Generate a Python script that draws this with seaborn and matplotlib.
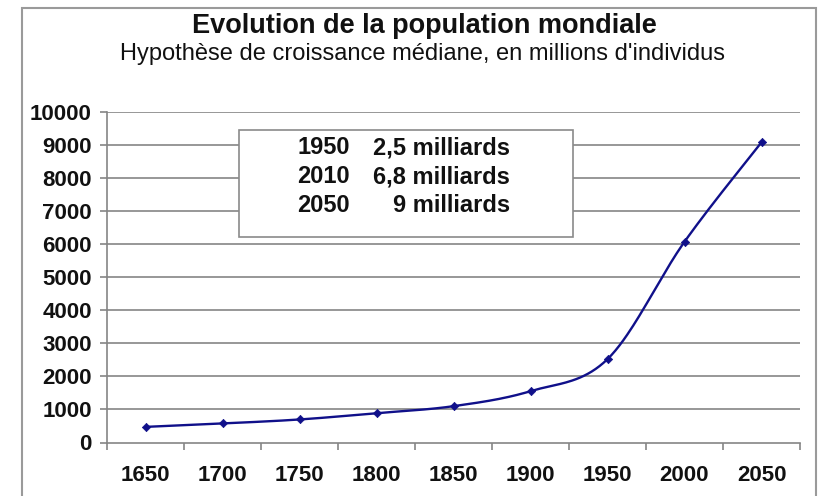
import numpy as np
import pandas as pd
import matplotlib
matplotlib.use("Agg")
import matplotlib.pyplot as plt
from matplotlib.patches import Rectangle
import seaborn as sns

# Population mondiale (millions), hypothèse médiane
annees = ["1650", "1700", "1750", "1800", "1850", "1900", "1950", "2000", "2050"]
population = [472, 575, 696, 886, 1098, 1552, 2520, 6068, 9075]
yticks = list(range(0, 10001, 1000))

encart_annees = ["1950", "2010", "2050"]
encart_valeurs = ["2,5 milliards", "6,8 milliards", "9 milliards"]

titre = "Evolution de la population mondiale"
sous_titre = "Hypothèse de croissance médiane, en millions d'individus"

sns.set_style("white")
plt.rcParams["font.family"] = ["Liberation Sans", "DejaVu Sans"]

W, H = 818, 496
fig = plt.figure(figsize=(W / 100, H / 100), dpi=100)
ax = fig.add_axes([107 / W, 1 - 442.5 / H, (800 - 107) / W, (442.5 - 111.7) / H])

df = pd.DataFrame({"annee": annees, "pop": population})
df["pos"] = np.arange(len(df))


def catmull_rom(xs, ys, n=40):
    """Smoothed path through the points (Catmull-Rom, like a spreadsheet's smoothed line)."""
    xs = np.asarray(xs, float)
    ys = np.asarray(ys, float)
    px = np.concatenate([[xs[0]], xs, [xs[-1]]])
    py = np.concatenate([[ys[0]], ys, [ys[-1]]])
    out_x, out_y = [], []
    t = np.linspace(0, 1, n)
    for i in range(1, len(px) - 2):
        p0x, p1x, p2x, p3x = px[i - 1:i + 3]
        p0y, p1y, p2y, p3y = py[i - 1:i + 3]
        c1x, c1y = p1x + (p2x - p0x) / 6, p1y + (p2y - p0y) / 6
        c2x, c2y = p2x - (p3x - p1x) / 6, p2y - (p3y - p1y) / 6
        bx = (1 - t) ** 3 * p1x + 3 * (1 - t) ** 2 * t * c1x + 3 * (1 - t) * t ** 2 * c2x + t ** 3 * p2x
        by = (1 - t) ** 3 * p1y + 3 * (1 - t) ** 2 * t * c1y + 3 * (1 - t) * t ** 2 * c2y + t ** 3 * p2y
        out_x.extend(bx)
        out_y.extend(by)
    return np.array(out_x), np.array(out_y)


cx, cy = catmull_rom(df["pos"], df["pop"])
navy = "#10108a"
ax.plot(cx, cy, color=navy, lw=1.7, zorder=3, solid_capstyle="round")
sns.scatterplot(data=df, x="pos", y="pop", marker="D", s=18, color=navy,
                edgecolor=navy, linewidth=0.5, ax=ax, zorder=4, legend=False)

ax.set_xlim(-0.5, len(annees) - 0.5)
ax.set_ylim(0, 10000)
ax.set_yticks(yticks)
ax.set_yticklabels([str(v) for v in yticks])
ax.set_xticks(df["pos"])
ax.set_xticklabels(annees)
ax.set_xlabel("")
ax.set_ylabel("")

grid_col = "#858585"
for v in yticks[1:]:
    ax.axhline(v, color=grid_col, lw=1.2, zorder=1)

for side in ["top", "right"]:
    ax.spines[side].set_visible(False)
for side in ["left", "bottom"]:
    ax.spines[side].set_color(grid_col)
    ax.spines[side].set_linewidth(1.2)

ax.tick_params(axis="y", which="major", left=True, length=5, width=1.2, color=grid_col,
               pad=6, labelsize=16)
ax.tick_params(axis="x", which="major", bottom=False, pad=13, labelsize=16)
# category separators on the x axis
ax.set_xticks(np.arange(-0.5, len(annees)), minor=True)
ax.tick_params(axis="x", which="minor", bottom=True, length=5, width=1.2, color=grid_col,
               direction="out")
for lab in ax.get_xticklabels() + ax.get_yticklabels():
    lab.set_fontweight("bold")
    lab.set_color("#111111")

# outer chart frame
fig.patches.append(Rectangle((21.7 / W, -0.05), (816 - 21.7) / W, 1.05 - 8.3 / H,
                             transform=fig.transFigure, fill=False,
                             edgecolor="#9a9a9a", lw=1.5))

fig.text(424 / W, 1 - 33 / H, titre, ha="center", va="baseline",
         fontsize=19.5, fontweight="bold", color="#111111")
fig.text(423 / W, 1 - 60 / H, sous_titre, ha="center", va="baseline",
         fontsize=17, color="#111111")

# annotation box
fig.patches.append(Rectangle((239 / W, 1 - 237 / H), (573 - 239) / W, (237 - 130) / H,
                             transform=fig.transFigure, facecolor="white",
                             edgecolor="#8a8a8a", lw=1.2, zorder=5))
for i, (a, v) in enumerate(zip(encart_annees, encart_valeurs)):
    yb = 1 - (154.5 + 28.7 * i) / H
    fig.text(350 / W, yb, a, ha="right", va="baseline", fontsize=17,
             fontweight="bold", color="#111111", zorder=6)
    fig.text(510 / W, yb, v, ha="right", va="baseline", fontsize=17,
             fontweight="bold", color="#111111", zorder=6)

fig.savefig("out.png", dpi=100)
